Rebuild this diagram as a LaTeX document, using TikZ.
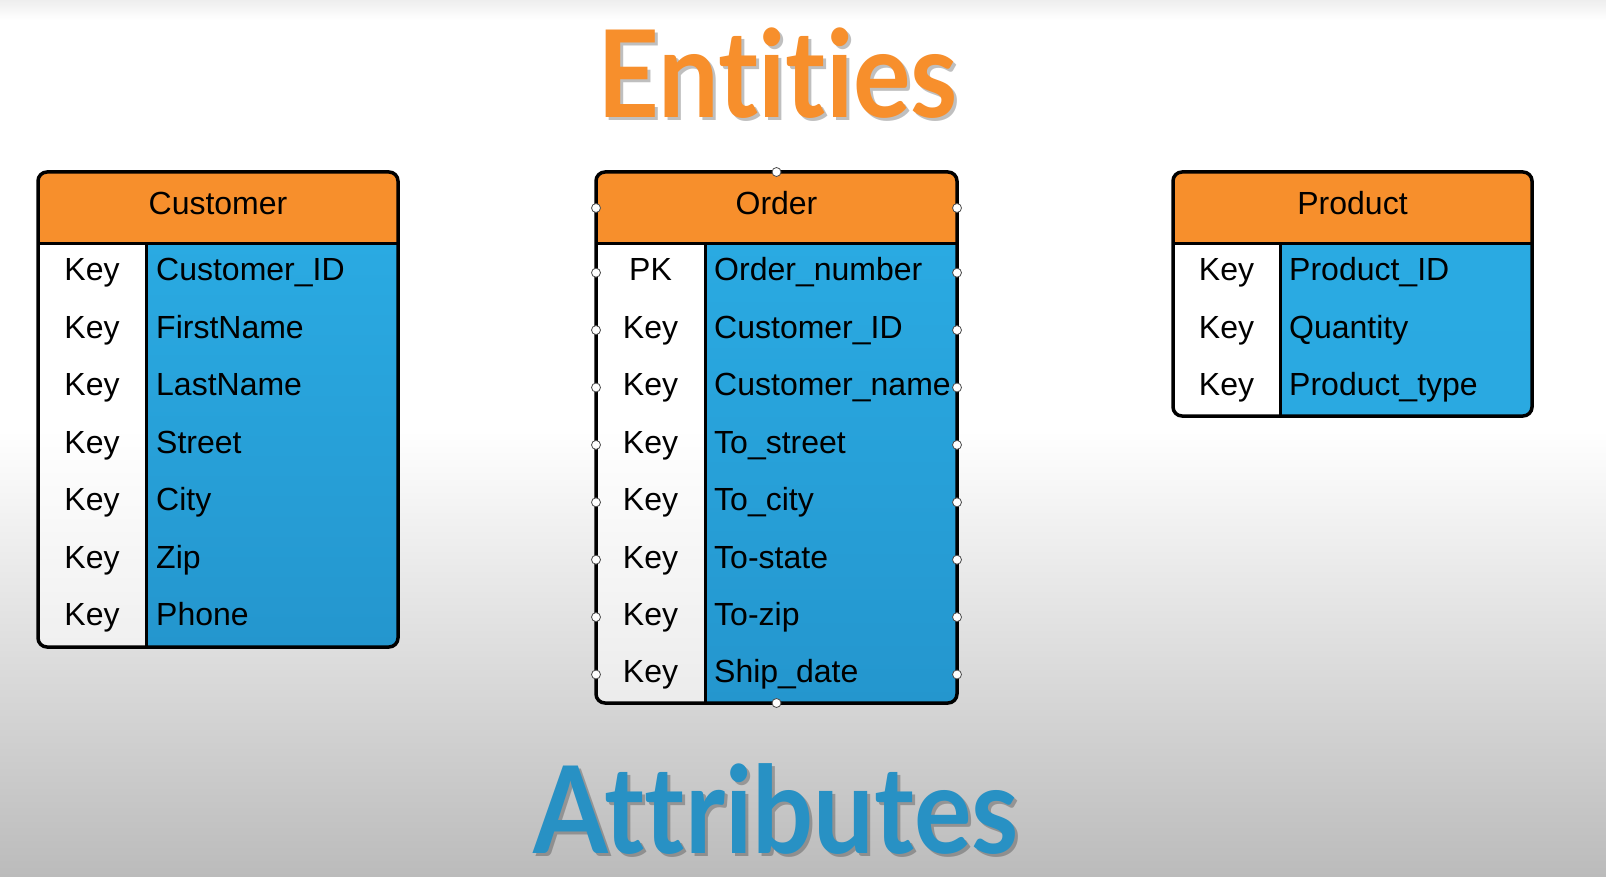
\documentclass[tikz,border=0pt]{standalone}
\usepackage{fontspec}
\setmainfont{Liberation Sans}
\newfontfamily\titlefont{Lato}[Ligatures=NoCommon]
\usepackage{xcolor}
\definecolor{entityorange}{RGB}{247,143,44}
\definecolor{attrtop}{RGB}{42,170,226}
\definecolor{attrbot}{RGB}{36,150,206}
\definecolor{titleblue}{RGB}{40,145,196}
\definecolor{bgtop}{RGB}{238,238,238}
\definecolor{bgbot}{RGB}{187,187,187}
\usetikzlibrary{calc}
\newcommand{\tabletext}{\fontsize{32}{36}\selectfont}
\newcommand{\bigtitle}[1]{\scalebox{0.89}[1]{\titlefont\bfseries\fontsize{121}{130}\selectfont #1}}

\begin{document}
\begin{tikzpicture}[x=1pt, y=-1pt,
  keytext/.style={anchor=base, inner sep=0pt, font=\tabletext},
  attrtext/.style={anchor=base west, inner sep=0pt, font=\tabletext},
  headtext/.style={anchor=base, inner sep=0pt, font=\tabletext},
  frame/.style={line width=3.5pt, rounded corners=9pt},
  rule/.style={line width=3pt},
  handle/.style={circle, draw=black!70, fill=white, line width=0.8pt, minimum size=9pt, inner sep=0pt},
  titletext/.style={anchor=base, inner sep=0pt}]
  \useasboundingbox (0,0) rectangle (1606,877);
  % background
  \fill[white] (0,0) rectangle (1606,877);
  \shade[top color=bgtop, bottom color=white] (0,0) rectangle (1606,20);
  \shade[top color=white, bottom color=bgbot] (0,430) rectangle (1606,877);

  % titles
  \node[titletext, black, opacity=.25] (entities shadow) at (781,121) {\bigtitle{Entities}};
  \node[titletext, entityorange] (entities) at (778,118) {\bigtitle{Entities}};
  \node[titletext, black, opacity=.25] (attributes shadow) at (779,856) {\bigtitle{Attributes}};
  \node[titletext, titleblue] (attributes) at (776,853) {\bigtitle{Attributes}};

  % Customer
  \begin{scope}
    \clip[rounded corners=9pt] (38,172) rectangle (398,647);
    \fill[entityorange] (38,172) rectangle (398,244);
    \shade[top color=attrtop, bottom color=attrbot] (146,244) rectangle (398,647);
    \fill[white, fill opacity=.55] (38,244) rectangle (146,647);
  \end{scope}
  \draw[frame] (38,172) rectangle (398,647);
  \draw[rule] (38,244) -- (398,244);
  \draw[rule] (146,244) -- (146,647);
  \node[headtext] (cust) at (218,215) {Customer};
  \node[keytext] (cr1c1) at (92,281)     {Key};
  \node[attrtext] (cr1c2) at (156,281)   {Customer\_ID};
  \node[keytext] (cr2c1) at (92,338.4)   {Key};
  \node[attrtext] (cr2c2) at (156,338.4) {FirstName};
  \node[keytext] (cr3c1) at (92,395.8)   {Key};
  \node[attrtext] (cr3c2) at (156,395.8) {LastName};
  \node[keytext] (cr4c1) at (92,453.2)   {Key};
  \node[attrtext] (cr4c2) at (156,453.2) {Street};
  \node[keytext] (cr5c1) at (92,510.6)   {Key};
  \node[attrtext] (cr5c2) at (156,510.6) {City};
  \node[keytext] (cr6c1) at (92,568)     {Key};
  \node[attrtext] (cr6c2) at (156,568)   {Zip};
  \node[keytext] (cr7c1) at (92,625.4)   {Key};
  \node[attrtext] (cr7c2) at (156,625.4) {Phone};

  % Order
  \begin{scope}
    \clip[rounded corners=9pt] (596,172) rectangle (957,703);
    \fill[entityorange] (596,172) rectangle (957,244);
    \shade[top color=attrtop, bottom color=attrbot] (705,244) rectangle (957,703);
    \fill[white, fill opacity=.55] (596,244) rectangle (705,703);
  \end{scope}
  \draw[frame] (596,172) rectangle (957,703);
  \draw[rule] (596,244) -- (957,244);
  \draw[rule] (705,244) -- (705,703);
  \node[headtext] (ord) at (776.5,215) {Order};
  \node[keytext] (or1c1) at (650.5,281)   {PK};
  \node[attrtext] (or1c2) at (714,281)    {Order\_number};
  \node[keytext] (or2c1) at (650.5,338.4) {Key};
  \node[attrtext] (or2c2) at (714,338.4)  {Customer\_ID};
  \node[keytext] (or3c1) at (650.5,395.8) {Key};
  \node[attrtext] (or3c2) at (714,395.8)  {Customer\_name};
  \node[keytext] (or4c1) at (650.5,453.2) {Key};
  \node[attrtext] (or4c2) at (714,453.2)  {To\_street};
  \node[keytext] (or5c1) at (650.5,510.6) {Key};
  \node[attrtext] (or5c2) at (714,510.6)  {To\_city};
  \node[keytext] (or6c1) at (650.5,568)   {Key};
  \node[attrtext] (or6c2) at (714,568)    {To-state};
  \node[keytext] (or7c1) at (650.5,625.4) {Key};
  \node[attrtext] (or7c2) at (714,625.4)  {To-zip};
  \node[keytext] (or8c1) at (650.5,682.8) {Key};
  \node[attrtext] (or8c2) at (714,682.8)  {Ship\_date};
  % selection handles
  \node[handle] (otop) at (776.5,172) {};
  \node[handle] (obot) at (776.5,703) {};
  \node[handle] (oh0l) at (596,208) {};
  \node[handle] (oh0r) at (957,208) {};
  \node[handle] (oh1l) at (596,272.7) {};
  \node[handle] (oh1r) at (957,272.7) {};
  \node[handle] (oh2l) at (596,330.1) {};
  \node[handle] (oh2r) at (957,330.1) {};
  \node[handle] (oh3l) at (596,387.5) {};
  \node[handle] (oh3r) at (957,387.5) {};
  \node[handle] (oh4l) at (596,444.9) {};
  \node[handle] (oh4r) at (957,444.9) {};
  \node[handle] (oh5l) at (596,502.3) {};
  \node[handle] (oh5r) at (957,502.3) {};
  \node[handle] (oh6l) at (596,559.7) {};
  \node[handle] (oh6r) at (957,559.7) {};
  \node[handle] (oh7l) at (596,617.1) {};
  \node[handle] (oh7r) at (957,617.1) {};
  \node[handle] (oh8l) at (596,674.5) {};
  \node[handle] (oh8r) at (957,674.5) {};

  % Product
  \begin{scope}
    \clip[rounded corners=9pt] (1173,172) rectangle (1532,416);
    \fill[entityorange] (1173,172) rectangle (1532,244);
    \shade[top color=attrtop, bottom color=attrtop!95!attrbot] (1280,244) rectangle (1532,416);
    \fill[white, fill opacity=.55] (1173,244) rectangle (1280,416);
  \end{scope}
  \draw[frame] (1173,172) rectangle (1532,416);
  \draw[rule] (1173,244) -- (1532,244);
  \draw[rule] (1280,244) -- (1280,416);
  \node[headtext] (prod) at (1352.5,215) {Product};
  \node[keytext] (pr1c1) at (1226.5,281)   {Key};
  \node[attrtext] (pr1c2) at (1289,281)    {Product\_ID};
  \node[keytext] (pr2c1) at (1226.5,338.4) {Key};
  \node[attrtext] (pr2c2) at (1289,338.4)  {Quantity};
  \node[keytext] (pr3c1) at (1226.5,395.8) {Key};
  \node[attrtext] (pr3c2) at (1289,395.8)  {Product\_type};
\end{tikzpicture}
\end{document}
